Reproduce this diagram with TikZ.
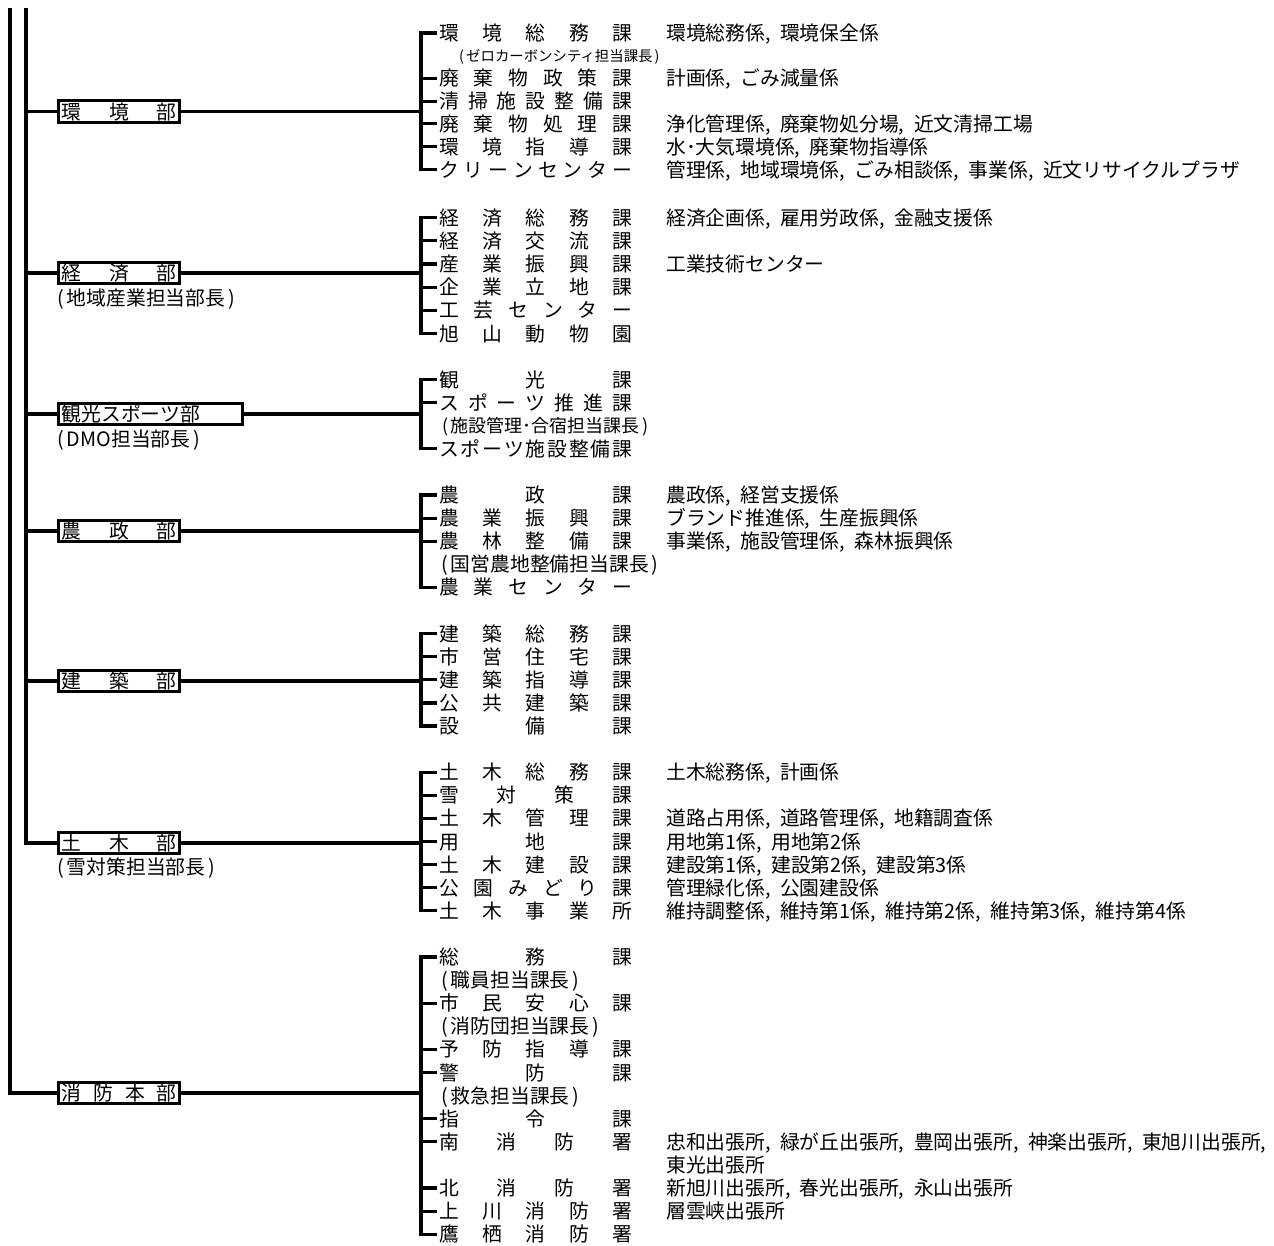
\documentclass[tikz,border=0pt]{standalone}
\usepackage{fontspec}
\setmainfont{Noto Sans CJK JP}
\makeatletter
\newcommand\spr[2]{\hbox to #1{\spr@loop#2\relax}}
\def\spr@loop#1#2{#1\ifx\relax#2\expandafter\@gobble\else\hfill\expandafter\@firstofone\fi{\spr@loop#2}}
\makeatother
\newcommand\kma{,\kern.48em}
\newcommand\lp{(\kern.15em}
\newcommand\rp{\kern.15em)}
\tikzset{
  ln/.style={line width=3.2pt},
  nm/.style={inner sep=0pt, anchor=west, text height=17.4pt, text depth=2.4pt},
  sm/.style={inner sep=0pt, anchor=west, font=\fontsize{14.4}{17}\selectfont, text height=12.7pt, text depth=1.7pt},
  md/.style={inner sep=0pt, anchor=west, font=\fontsize{18}{21}\selectfont, text height=15.8pt, text depth=2.2pt},
  bx/.style={draw, line width=3.2pt, inner xsep=3pt, inner ysep=0pt, minimum height=21.6pt, anchor=west, text height=17.4pt, text depth=2.4pt},
}
\newcommand\kanode[3]{\node[nm] (#1) at (439,#2) {\spr{193pt}{#3}};}
\newcommand\rinode[3]{\node[nm] (#1) at (666,#2) {#3};}
\newcommand\brtick[2]{\draw[ln] ([xshift=-2pt]#1.west) -- (#1.west -| #2);}
\newcommand\secbrk[3]{\draw[ln] ([xshift=-2pt]#1.west) -| (#2) |- ([xshift=-2pt]#3.west);}
\begin{document}
\begin{tikzpicture}[x=1pt,y=-1pt,font=\fontsize{19.8}{23}\selectfont]
\useasboundingbox (0,0) rectangle (1274,1245);
% departments
\node[bx] (env) at (57,111.5) {\spr{115pt}{環境部}};
\node[bx] (eco) at (57,273) {\spr{115pt}{経済部}};
\node[nm] (ecoS) at (57,298) {\lp 地域産業担当部長\rp};
\node[bx] (tour) at (57,414) {\hbox to 177.6pt{観光スポーツ部\hfil}};
\node[nm] (tourS) at (57,439) {\lp DMO担当部長\rp};
\node[bx] (agri) at (57,531) {\spr{115pt}{農政部}};
\node[bx] (arch) at (57,681) {\spr{115pt}{建築部}};
\node[bx] (civ) at (57,843) {\spr{115pt}{土木部}};
\node[nm] (civS) at (57,867) {\lp 雪対策担当部長\rp};
\node[bx] (fire) at (57,1093) {\spr{115pt}{消防本部}};
% trunk lines
\coordinate (topA) at (26,8);
\coordinate (topB) at (10,8);
\draw[ln] (topA) |- (civ.west);
\draw[ln] (topB) |- (fire.west);
\foreach \b in {env,eco,tour,agri,arch} \draw[ln] (\b.west) -- (\b.west -| topA);
% junctions
\coordinate (envJ) at (421,111.5);
\coordinate (ecoJ) at (421,273);
\coordinate (tourJ) at (421,414);
\coordinate (agriJ) at (421,531);
\coordinate (archJ) at (421,681);
\coordinate (civJ) at (421,843);
\coordinate (fireJ) at (421,1093);
\foreach \b in {env,eco,tour,agri,arch,civ,fire} \draw[ln] (\b.east) -- (\b J);
% section 1
\kanode{n0}{33}{環境総務課}
\node[sm] (s1) at (459,55.7) {\lp ゼロカーボンシティ担当課長\rp};
\kanode{n2}{78.4}{廃棄物政策課}
\kanode{n3}{101.1}{清掃施設整備課}
\kanode{n4}{123.8}{廃棄物処理課}
\kanode{n5}{146.5}{環境指導課}
\kanode{n6}{169.5}{クリーンセンター}
\rinode{r0}{33}{環境総務係\kma 環境保全係}
\rinode{r2}{78.4}{計画係\kma ごみ減量係}
\rinode{r4}{123.8}{浄化管理係\kma 廃棄物処分場\kma 近文清掃工場}
\rinode{r5}{146.5}{水･大気環境係\kma 廃棄物指導係}
\rinode{r6}{169.5}{管理係\kma 地域環境係\kma ごみ相談係\kma 事業係\kma 近文リサイクルプラザ}
\secbrk{n0}{envJ}{n6}
\foreach \n in {n2,n3,n4,n5} {\brtick{\n}{envJ}}
% section 2
\kanode{n8}{217.5}{経済総務課}
\kanode{n9}{240.7}{経済交流課}
\kanode{n10}{263.9}{産業振興課}
\kanode{n11}{287.1}{企業立地課}
\kanode{n12}{310.3}{工芸センター}
\kanode{n13}{333.5}{旭山動物園}
\rinode{r8}{217.5}{経済企画係\kma 雇用労政係\kma 金融支援係}
\rinode{r10}{263.9}{工業技術センター}
\secbrk{n8}{ecoJ}{n13}
\foreach \n in {n9,n10,n11,n12} {\brtick{\n}{ecoJ}}
% section 3
\kanode{n15}{379.5}{観光課}
\kanode{n16}{402.6}{スポーツ推進課}
\node[md] (s17) at (442,425.7) {\lp 施設管理･合宿担当課長\rp};
\kanode{n18}{448.8}{スポーツ施設整備課}
\secbrk{n15}{tourJ}{n18}
\brtick{n16}{tourJ}
% section 4
\kanode{n20}{495}{農政課}
\kanode{n21}{518.1}{農業振興課}
\kanode{n22}{541.2}{農林整備課}
\node[nm] (s23) at (441,564.3) {\lp 国営農地整備担当課長\rp};
\kanode{n24}{587.4}{農業センター}
\rinode{r20}{495}{農政係\kma 経営支援係}
\rinode{r21}{518.1}{ブランド推進係\kma 生産振興係}
\rinode{r22}{541.2}{事業係\kma 施設管理係\kma 森林振興係}
\secbrk{n20}{agriJ}{n24}
\foreach \n in {n21,n22} {\brtick{\n}{agriJ}}
% section 5
\kanode{n26}{633.6}{建築総務課}
\kanode{n27}{656.7}{市営住宅課}
\kanode{n28}{679.8}{建築指導課}
\kanode{n29}{702.9}{公共建築課}
\kanode{n30}{726}{設備課}
\secbrk{n26}{archJ}{n30}
\foreach \n in {n27,n28,n29} {\brtick{\n}{archJ}}
% section 6
\kanode{n32}{772.2}{土木総務課}
\kanode{n33}{795.3}{雪対策課}
\kanode{n34}{818.4}{土木管理課}
\kanode{n35}{841.5}{用地課}
\kanode{n36}{864.6}{土木建設課}
\kanode{n37}{887.7}{公園みどり課}
\kanode{n38}{910.8}{土木事業所}
\rinode{r32}{772.2}{土木総務係\kma 計画係}
\rinode{r34}{818.4}{道路占用係\kma 道路管理係\kma 地籍調査係}
\rinode{r35}{841.5}{用地第1係\kma 用地第2係}
\rinode{r36}{864.6}{建設第1係\kma 建設第2係\kma 建設第3係}
\rinode{r37}{887.7}{管理緑化係\kma 公園建設係}
\rinode{r38}{910.8}{維持調整係\kma 維持第1係\kma 維持第2係\kma 維持第3係\kma 維持第4係}
\secbrk{n32}{civJ}{n38}
\foreach \n in {n33,n34,n35,n36,n37} {\brtick{\n}{civJ}}
% section 7
\kanode{n40}{957}{総務課}
\node[nm] (s41) at (441,980.1) {\lp 職員担当課長\rp};
\kanode{n42}{1003.2}{市民安心課}
\node[nm] (s43) at (441,1026.3) {\lp 消防団担当課長\rp};
\kanode{n44}{1049.4}{予防指導課}
\kanode{n45}{1072.5}{警防課}
\node[nm] (s46) at (441,1095.6) {\lp 救急担当課長\rp};
\kanode{n47}{1118.7}{指令課}
\kanode{n48}{1141.8}{南消防署}
\kanode{n50}{1188}{北消防署}
\kanode{n51}{1211.1}{上川消防署}
\kanode{n52}{1234.2}{鷹栖消防署}
\rinode{r48}{1141.8}{忠和出張所\kma 緑が丘出張所\kma 豊岡出張所\kma 神楽出張所\kma 東旭川出張所,}
\rinode{r49}{1164.9}{東光出張所}
\rinode{r50}{1188}{新旭川出張所\kma 春光出張所\kma 永山出張所}
\rinode{r51}{1211.1}{層雲峡出張所}
\secbrk{n40}{fireJ}{n52}
\foreach \n in {n42,n44,n45,n47,n48,n50,n51} {\brtick{\n}{fireJ}}
\end{tikzpicture}
\end{document}
